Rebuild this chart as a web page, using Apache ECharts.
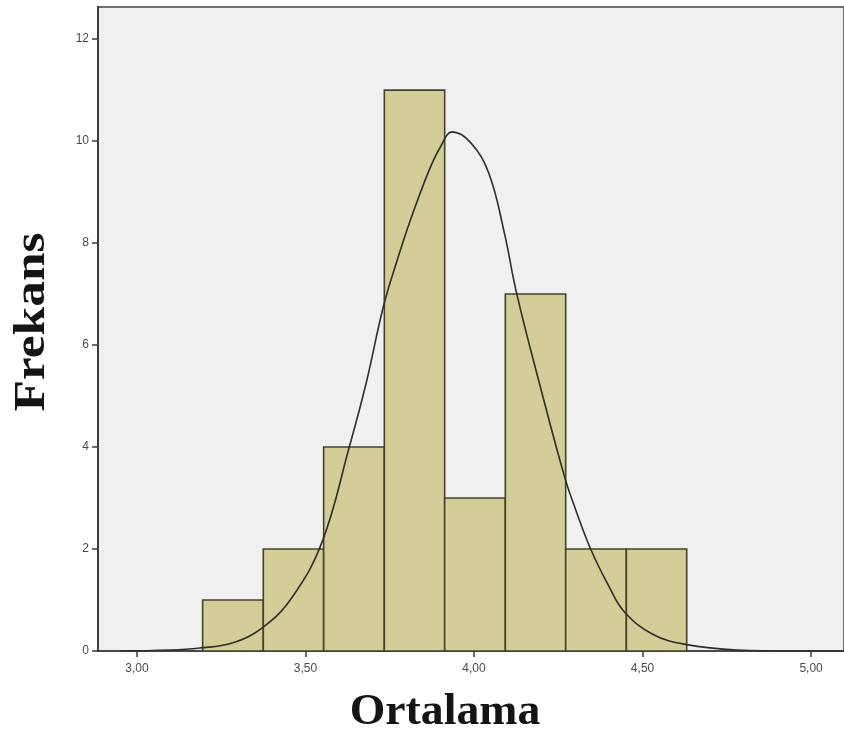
<!DOCTYPE html>
<html>
<head>
<meta charset="utf-8">
<script src="https://cdn.jsdelivr.net/npm/echarts@6/dist/echarts.min.js"></script>
<style>
html,body{margin:0;padding:0;background:#fff;}
#chart{width:844px;height:742px;}
</style>
</head>
<body>
<div id="chart"></div>
<script>
// Histogram bin edges (Ortalama) and frequencies
const binEdges = [3.195, 3.375, 3.554, 3.734, 3.913, 4.093, 4.272, 4.452, 4.631];
const counts = [1, 2, 4, 11, 3, 7, 2, 2];
// Fitted normal curve
const curveX = [2.95, 3.098, 3.186, 3.28, 3.373, 3.46, 3.55, 3.63, 3.68, 3.731, 3.77, 3.814, 3.867, 3.90, 3.935, 3.99, 4.044, 4.09, 4.127, 4.2, 4.269, 4.30, 4.346, 4.40, 4.447, 4.53, 4.627, 4.78, 4.95, 5.1];
const curveY = [0.0, 0.02, 0.06, 0.15, 0.46, 1.05, 2.15, 4.0, 5.25, 6.75, 7.62, 8.5, 9.43, 9.88, 10.18, 9.97, 9.37, 8.2, 7.0, 5.1, 3.41, 2.8, 2.0, 1.27, 0.76, 0.33, 0.13, 0.02, 0.0, 0.0];
const xTickValues = [3.0, 3.5, 4.0, 4.5, 5.0];
const yTickValues = [0, 2, 4, 6, 8, 10, 12];

const barData = counts.map((c, i) => [binEdges[i], binEdges[i + 1], c]);
const curveData = curveX.map((x, i) => [x, curveY[i]]);

const chart = echarts.init(document.getElementById('chart'), null, {renderer: 'canvas'});
const fmt = v => Number(v).toFixed(2).replace('.', ',');

chart.setOption({
  animation: false,
  backgroundColor: '#ffffff',
  grid: {
    left: 98, top: 7, right: -2, bottom: 91,
    show: true, backgroundColor: '#f0f0f0',
    borderColor: '#6e6e6e', borderWidth: 2
  },
  xAxis: {
    type: 'value', min: 2.8846, max: 5.0976,
    splitLine: {show: false},
    axisLine: {show: true, onZero: false, lineStyle: {color: '#3c3c3c', width: 1.5}},
    axisTick: {show: true, length: 6, customValues: xTickValues, lineStyle: {color: '#3c3c3c', width: 1.5}},
    axisLabel: {customValues: xTickValues, formatter: fmt, margin: 12,
      fontFamily: 'Liberation Sans', fontSize: 12, color: '#4a4a4a'}
  },
  yAxis: {
    type: 'value', min: 0, max: 12.63,
    splitLine: {show: false},
    axisLine: {show: true, lineStyle: {color: '#3c3c3c', width: 2}},
    axisTick: {show: true, length: 6, customValues: yTickValues, lineStyle: {color: '#3c3c3c', width: 1.5}},
    axisLabel: {customValues: yTickValues, margin: 9,
      fontFamily: 'Liberation Sans', fontSize: 12, color: '#4a4a4a'}
  },
  graphic: [
    {type: 'text', x: 445, y: 713, scaleX: 1.04,
      style: {text: 'Ortalama', font: 'bold 44px "Liberation Serif"', fill: '#141414', align: 'center', verticalAlign: 'middle'}},
    {type: 'text', rotation: Math.PI / 2, x: 33, y: 322, scaleX: 1.17,
      style: {text: 'Frekans', font: 'bold 44px "Liberation Serif"', fill: '#141414', align: 'center', verticalAlign: 'middle'}}
  ],
  series: [
    {
      type: 'custom',
      data: barData,
      encode: {x: [0, 1], y: 2},
      renderItem: function (params, api) {
        const p0 = api.coord([api.value(0), api.value(2)]);
        const p1 = api.coord([api.value(1), 0]);
        return {
          type: 'rect',
          shape: {x: p0[0], y: p0[1], width: p1[0] - p0[0], height: p1[1] - p0[1]},
          style: {fill: '#d3ce97', stroke: '#45412a', lineWidth: 1.6}
        };
      },
      z: 2
    },
    {
      type: 'line',
      data: curveData,
      smooth: 0.4,
      symbol: 'none',
      lineStyle: {color: '#2e2e28', width: 1.6},
      z: 3
    }
  ]
});
</script>
</body>
</html>
